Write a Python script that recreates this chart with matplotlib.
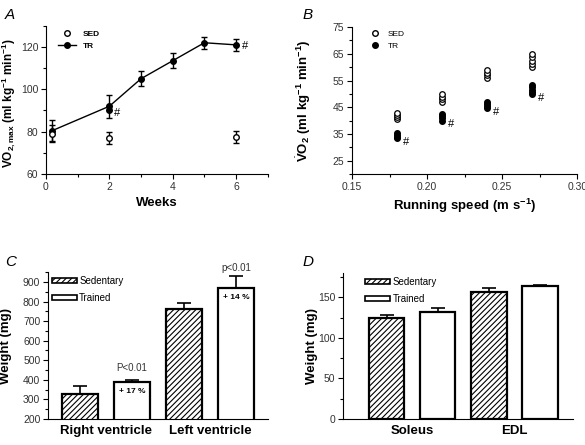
import numpy as np
from matplotlib import pyplot as plt
from matplotlib.patches import Patch
from matplotlib.lines import Line2D
from matplotlib.ticker import MultipleLocator

plt.rcParams['font.family'] = ['Liberation Sans', 'DejaVu Sans']
plt.rcParams['mathtext.fontset'] = 'custom'
plt.rcParams['mathtext.rm'] = 'Liberation Sans'
plt.rcParams['mathtext.bf'] = 'Liberation Sans:bold'
plt.rcParams['hatch.linewidth'] = 0.8

# panel A data
weeks_tr = [0.2, 2, 3, 4, 5, 6]
vo2_tr = [80.5, 92, 105, 113.5, 122, 121]
err_tr = [5, 5.5, 3.5, 3.5, 2.8, 2.8]
weeks_sed = [0.2, 2, 6]
vo2_sed = [79, 77, 77.5]
err_sed = [4, 3, 3]

# panel B data
speeds = [0.18, 0.21, 0.24, 0.27]
sed_b = [[40.5, 41.3, 42.2, 42.8],
         [47, 48, 49, 50],
         [56, 57, 58, 59],
         [60, 61.3, 62.3, 63.8, 65]]
tr_b = [[33.3, 34, 34.6, 35.2],
        [40, 40.8, 41.6, 42.4],
        [44.6, 45.4, 46.2, 47],
        [50, 50.8, 51.6, 52.4, 53.2]]

# panel C data
heart = ["Right ventricle", "Left ventricle"]
heart_sed = [330, 762]
heart_sed_err = [38, 28]
heart_tr = [388, 870]
heart_tr_err = [12, 60]

# panel D data
muscle = ["Soleus", "EDL"]
mus_sed = [124.5, 157]
mus_sed_err = [4, 4]
mus_tr = [131.5, 163.5]
mus_tr_err = [5.5, 1.5]

fig = plt.figure(figsize=(5.85, 4.45), dpi=100)
axA = fig.add_axes([0.0786, 0.609, 0.379, 0.333])
axB = fig.add_axes([0.6017, 0.609, 0.385, 0.330])
axC = fig.add_axes([0.082, 0.0584, 0.376, 0.330])
axD = fig.add_axes([0.586, 0.0584, 0.393, 0.328])

tick_col = "#333333"
for ax in (axA, axB, axC, axD):
    ax.spines["top"].set_visible(False)
    ax.spines["right"].set_visible(False)
    ax.tick_params(direction="out", labelsize=7.5, labelcolor=tick_col, length=3.5, width=0.8, pad=2)
    ax.tick_params(which="minor", direction="out", length=2, width=0.8)

lab_kw = dict(fontsize=9.5, fontweight="bold")

# A
axA.errorbar(weeks_tr, vo2_tr, yerr=err_tr, color="k", marker="o", ms=4, lw=1,
             capsize=2.5, elinewidth=1)
axA.errorbar(weeks_sed, vo2_sed, yerr=err_sed, color="k", marker="o", ms=4, mfc="white",
             ls="none", capsize=2.5, elinewidth=1)
axA.plot([2], [90], "ko", ms=4)
axA.text(2.15, 87.5, "#", fontsize=8)
axA.text(6.2, 119, "#", fontsize=8)
axA.set_xlim(0, 7)
axA.set_ylim(60, 130)
axA.set_xticks([0, 2, 4, 6])
axA.xaxis.set_minor_locator(MultipleLocator(1))
axA.set_yticks([60, 80, 100, 120])
axA.yaxis.set_minor_locator(MultipleLocator(10))
axA.set_xlabel("Weeks", **lab_kw)
axA.set_ylabel(r"$\dot{\mathbf{V}}\mathbf{O}_{\mathbf{2,max}}$ (ml kg$^{\mathbf{-1}}$ min$^{\mathbf{-1}}$)",
               fontsize=8.5, fontweight="bold")
axA.yaxis.set_label_coords(-0.125, 0.48)
axA.legend(handles=[Line2D([], [], color="k", marker="o", mfc="white", ls="none", ms=4),
                    Line2D([], [], color="k", marker="o", ms=4, lw=1)],
           labels=["SED", "TR"], loc="upper left", frameon=False,
           prop={"size": 6, "weight": "bold"}, handlelength=2.2,
           bbox_to_anchor=(0.02, 1.02))

# B
for s, vals in zip(speeds, sed_b):
    axB.plot([s] * len(vals), vals, "o", color="k", mfc="white", ms=4, mew=0.9, ls="none")
for s, vals in zip(speeds, tr_b):
    axB.plot([s] * len(vals), vals, "o", color="k", ms=4, ls="none")
    axB.text(s + 0.004, vals[0] - 2.5, "#", fontsize=8)
axB.set_xlim(0.15, 0.30)
axB.set_ylim(20, 75)
axB.set_xticks([0.15, 0.20, 0.25, 0.30])
axB.set_xticklabels(["0.15", "0.20", "0.25", "0.30"])
axB.xaxis.set_minor_locator(MultipleLocator(0.025))
axB.set_yticks([25, 35, 45, 55, 65, 75])
axB.yaxis.set_minor_locator(MultipleLocator(5))
axB.set_xlabel(r"Running speed (m s$^{\mathbf{-1}}$)", **lab_kw)
axB.set_ylabel(r"$\dot{\mathbf{V}}\mathbf{O}_{\mathbf{2}}$ (ml kg$^{\mathbf{-1}}$ min$^{\mathbf{-1}}$)",
               fontsize=9.5, fontweight="bold")
axB.yaxis.set_label_coords(-0.175, 0.5)
axB.legend(handles=[Line2D([], [], color="k", marker="o", mfc="white", ls="none", ms=4),
                    Line2D([], [], color="k", marker="o", ls="none", ms=4)],
           labels=["SED", "TR"], loc="upper left", frameon=False,
           prop={"size": 6}, handlelength=1.5, bbox_to_anchor=(0.04, 1.03))


def bars(ax, sed, sed_err, tr, tr_err, start):
    xs = np.arange(len(sed)) * 2 + start
    ax.bar(xs, sed, width=0.69, color="white", edgecolor="k", hatch="//////", lw=1.6)
    ax.errorbar(xs, sed, yerr=[[0] * len(sed), sed_err], ls="none", color="k",
                capsize=5, elinewidth=1.2, capthick=1.2)
    ax.bar(xs + 1, tr, width=0.69, color="white", edgecolor="k", lw=1.6)
    ax.errorbar(xs + 1, tr, yerr=[[0] * len(tr), tr_err], ls="none", color="k",
                capsize=5, elinewidth=1.2, capthick=1.2)
    handles = [Patch(facecolor="white", edgecolor="k", hatch="//////", lw=1.2),
               Patch(facecolor="white", edgecolor="k", lw=1.2)]
    ax.legend(handles=handles, labels=["Sedentary", "Trained"], loc="upper left",
              frameon=False, fontsize=7, handlelength=2.6, handleheight=0.4,
              handletextpad=0.2, labelspacing=0.75, borderaxespad=0,
              bbox_to_anchor=(0.0, 1.0))
    return xs


# C
xc = bars(axC, heart_sed, heart_sed_err, heart_tr, heart_tr_err, 0.615)
axC.set_xlim(0, 4.23)
axC.set_ylim(200, 950)
axC.set_yticks(range(200, 901, 100))
axC.yaxis.set_minor_locator(MultipleLocator(50))
axC.set_xticks(xc + 0.5)
axC.set_xticklabels(heart, fontsize=9.5, fontweight="bold", color="k")
axC.tick_params(axis="x", length=0, pad=4)
axC.set_ylabel("Weight (mg)", **lab_kw)
axC.yaxis.set_label_coords(-0.165, 0.5)
axC.text(xc[0] + 1, heart_tr[0] + heart_tr_err[0] + 45, "P<0.01", ha="center", fontsize=7, color=tick_col)
axC.text(xc[1] + 1, heart_tr[1] + heart_tr_err[1] + 25, "p<0.01", ha="center", fontsize=7, color=tick_col)
axC.text(xc[0] + 1, heart_tr[0] - 45, "+ 17 %", ha="center", va="center", fontsize=6, fontweight="bold")
axC.text(xc[1] + 1, heart_tr[1] - 50, "+ 14 %", ha="center", va="center", fontsize=6, fontweight="bold")

# D
xd = bars(axD, mus_sed, mus_sed_err, mus_tr, mus_tr_err, 0.86)
axD.legend_.set_bbox_to_anchor((0.08, 1.0), transform=axD.transAxes)
axD.set_xlim(0, 4.5)
axD.set_ylim(0, 180)
axD.set_yticks([0, 50, 100, 150])
axD.yaxis.set_minor_locator(MultipleLocator(25))
axD.set_xticks(xd + 0.5)
axD.set_xticklabels(muscle, fontsize=9.5, fontweight="bold", color="k")
axD.tick_params(axis="x", length=0, pad=4)
axD.set_ylabel("Weight (mg)", **lab_kw)
axD.yaxis.set_label_coords(-0.11, 0.5)

for lbl, (x, y) in zip("ABCD", [(5, 15), (303, 15), (5, 262), (303, 262)]):
    fig.text(x / 585, 1 - y / 445, lbl, fontsize=11, style="italic", va="center")

fig.savefig("out.png", dpi=100)
